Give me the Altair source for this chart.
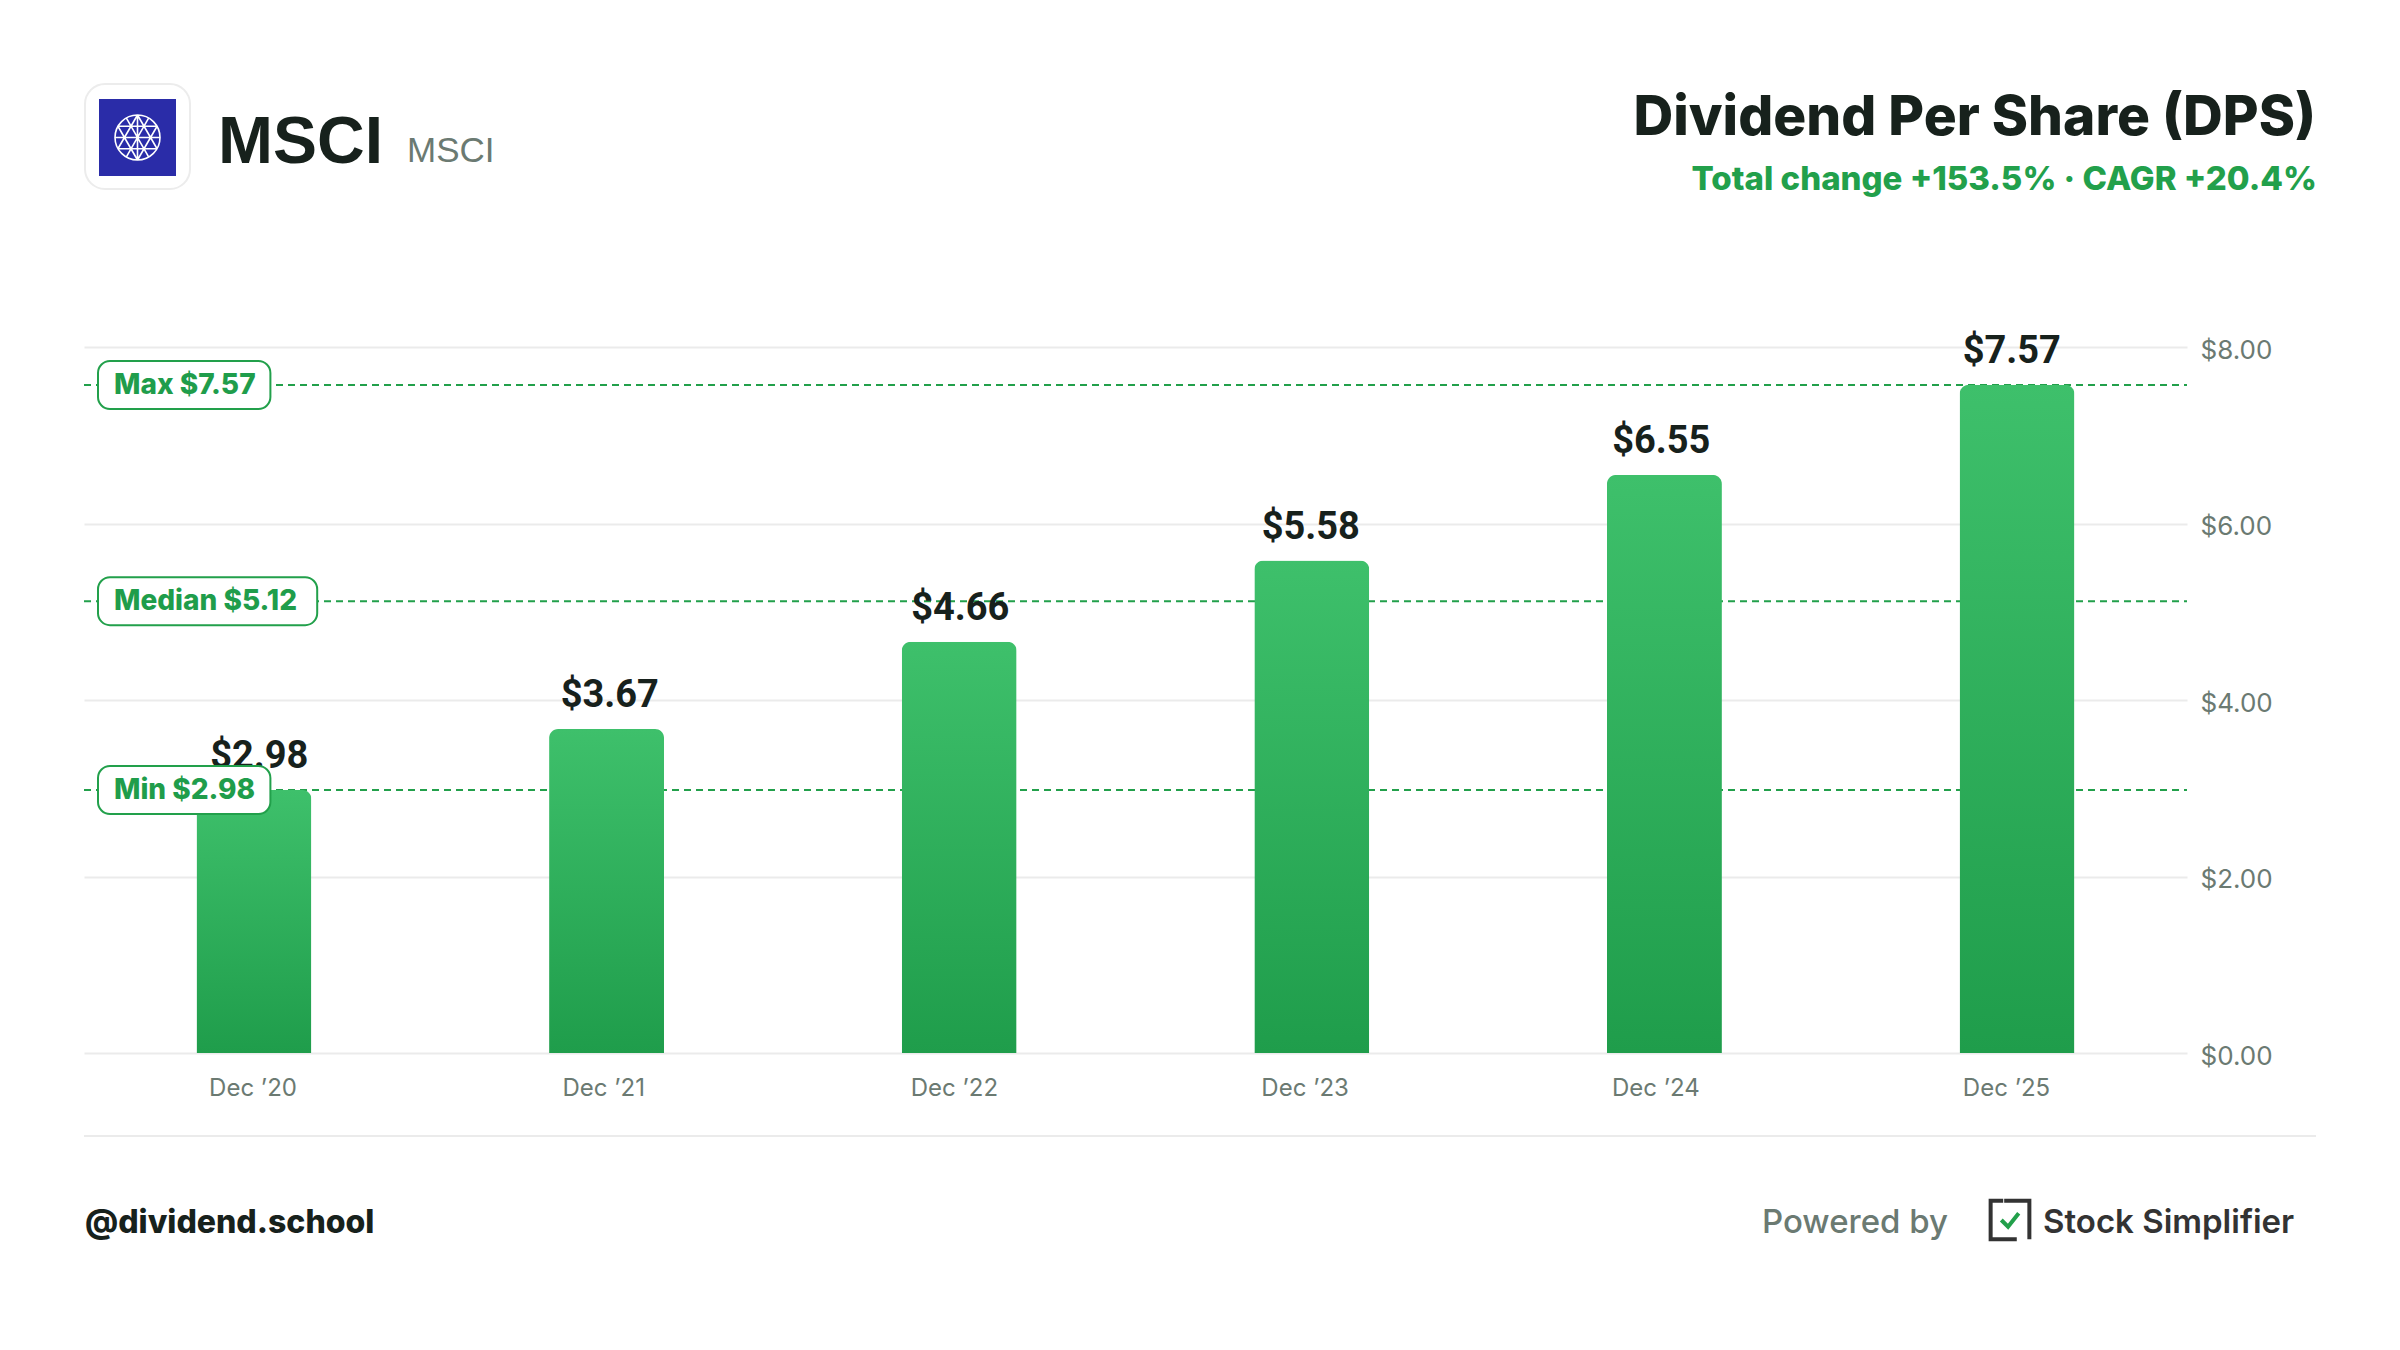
import altair as alt
import pandas as pd

# ---------------- data ----------------
periods = ["Dec ’20", "Dec ’21", "Dec ’22", "Dec ’23", "Dec ’24", "Dec ’25"]
dps = [2.98, 3.67, 4.66, 5.58, 6.55, 7.57]
ref_names = ["Max", "Median", "Min"]
ref_values = [7.57, 5.12, 2.98]
y_ticks = [0, 2, 4, 6, 8]

company = "MSCI"
ticker = "MSCI"
title_text = "Dividend Per Share (DPS)"
subtitle_text = "Total change +153.5% · CAGR +20.4%"
handle = "@dividend.school"
powered = "Powered by"
brand = "Stock Simplifier"

# ---------------- layout ----------------
W, H = 2103, 706
GREEN = "#22a04b"
DARK = "#17211c"
GRAY = "#6b7a72"
FONT = "Inter"

df = pd.DataFrame({"period": periods, "dps": dps})
ref = pd.DataFrame({"name": ref_names, "value": ref_values})
one = pd.DataFrame({"k": [0]})

y_scale = alt.Scale(domain=[0, 8], nice=False, zero=True)
bar_scale = alt.Scale(paddingInner=0.674, paddingOuter=0.319)
label_scale = alt.Scale(paddingInner=0.5, paddingOuter=0.2483, align=0.467)

x_axis = alt.Axis(title=None, labelAngle=0, ticks=False, domain=False,
                  labelFont=FONT, labelFontSize=24, labelColor=GRAY,
                  labelPadding=23, grid=False)
y_axis = alt.Axis(orient="right", values=y_ticks, format="$.2f", title=None,
                  ticks=False, domain=False, labelPadding=13, labelFont=FONT,
                  labelFontSize=26, labelColor=GRAY, gridColor="#ebebeb",
                  gridWidth=2, grid=True, labelOffset=3)


def XB():
    return alt.X("period:N", sort=periods, scale=bar_scale, axis=None)


def Y(field):
    return alt.Y(field, scale=y_scale, axis=y_axis)


axis_layer = alt.Chart(df).mark_bar(opacity=0).encode(
    x=alt.X("period:N", sort=periods, scale=label_scale, axis=x_axis),
    y=Y("dps:Q"),
)

rules = alt.Chart(ref).mark_rule(strokeDash=[7, 5], color=GREEN, strokeWidth=2).encode(
    y=Y("value:Q"), x=alt.value(0), x2=alt.value(W),
)

bars = alt.Chart(df).mark_bar(
    color=alt.Gradient(
        gradient="linear",
        stops=[alt.GradientStop(color="#3ec06b", offset=0),
               alt.GradientStop(color="#1f9d4b", offset=1)],
        x1=0, x2=0, y1=0, y2=1,
    ),
    cornerRadiusTopLeft=9, cornerRadiusTopRight=9,
).encode(x=XB(), y=Y("dps:Q"))

values = alt.Chart(df).mark_text(
    font="Roboto", fontWeight="bold", fontSize=38, color=DARK,
    baseline="alphabetic", dy=-22,
).encode(
    x=XB(), y=Y("dps:Q"),
    text=alt.Text("dps:Q", format="$.2f"),
)

ref_base = alt.Chart(ref).transform_calculate(
    label="datum.name + ' $' + format(datum.value, '.2f')"
).transform_calculate(
    bx0="14", bx1="14 + 15.6 * length(datum.label) + 32"
)

boxes = ref_base.mark_rect(
    fill="white", stroke=GREEN, strokeWidth=2, cornerRadius=12,
    yOffset=-24, y2Offset=24,
).encode(
    y=Y("value:Q"), y2="value:Q",
    x=alt.X("bx0:Q", scale=None, axis=None), x2="bx1:Q",
)

box_text = ref_base.mark_text(
    align="left", baseline="middle", font=FONT, fontWeight=800,
    fontSize=28, color="#1f9d4b", dy=1,
).encode(
    y=Y("value:Q"), x=alt.value(30), text="label:N",
)

# ---------------- header ----------------
def txt(t, x, y, size, color, weight="normal", align="left", font=FONT):
    return alt.Chart(one).mark_text(
        text=t, align=align, baseline="alphabetic", fontSize=size,
        fontWeight=weight, color=color, font=font,
    ).encode(x=alt.value(x), y=alt.value(y))

logo_bg = alt.Chart(one).mark_rect(
    fill="white", stroke="#ececec", strokeWidth=2, cornerRadius=20
).encode(x=alt.value(1), x2=alt.value(106), y=alt.value(-263), y2=alt.value(-158))
logo_sq = alt.Chart(one).mark_rect(fill="#2a2ca8").encode(
    x=alt.value(15), x2=alt.value(92), y=alt.value(-248), y2=alt.value(-171)
)
globe_path = (
    "M-1,0 A1,1 0 1,1 1,0 A1,1 0 1,1 -1,0 Z "
    "M0,-1 L0,1 "
    "M-0.87,-0.5 L0.87,-0.5 M-1,0 L1,0 M-0.87,0.5 L0.87,0.5 "
    "M0,-1 L-0.87,0.5 M0,-1 L0.87,0.5 M0,1 L-0.87,-0.5 M0,1 L0.87,-0.5 "
    "M-0.5,-0.87 L0.5,0.87 M0.5,-0.87 L-0.5,0.87"
)
globe = alt.Chart(one).mark_point(
    shape=globe_path, filled=False, stroke="white", strokeWidth=1.6,
    size=2025, opacity=1,
).encode(x=alt.value(53.5), y=alt.value(-209.5))

name_big = txt(company, 134, -184, 66, DARK, "bold", font="Liberation Sans")
name_small = txt(ticker, 323, -185, 35, GRAY, font="Liberation Sans")
title = txt(title_text, 2232, -212, 55, DARK, 800, align="right")
subtitle = txt(subtitle_text, 2233, -157, 33, GREEN, 800, align="right")

# ---------------- footer ----------------
sep = alt.Chart(one).mark_rule(color="#ebebeb", strokeWidth=2).encode(
    x=alt.value(0), x2=alt.value(2232), y=alt.value(789)
)
foot_handle = txt(handle, 1, 886, 32, DARK, 800)
foot_powered = txt(powered, 1678, 886, 33, GRAY, 500)
foot_brand = txt(brand, 1959, 886, 33, "#333333", 600)
icon = alt.Chart(one).mark_point(
    shape="M-0.35,-1 L-1,-1 L-1,1 L0.35,1 M-0.3,-1 L1,-1 L1,1",
    filled=False, stroke="#333333", strokeWidth=4, size=1500, opacity=1,
).encode(x=alt.value(1926), y=alt.value(873))
check = alt.Chart(one).mark_point(
    shape="M-0.45,0 L-0.1,0.35 L0.45,-0.35",
    filled=False, stroke=GREEN, strokeWidth=4, size=1500, opacity=1,
).encode(x=alt.value(1926), y=alt.value(873))

chart = alt.layer(
    axis_layer, rules, bars, values, boxes, box_text,
    logo_bg, logo_sq, globe, name_big, name_small, title, subtitle,
    sep, foot_handle, foot_powered, icon, check, foot_brand,
).resolve_scale(x="independent").properties(
    width=W, height=H,
    autosize=alt.AutoSizeParams(type="none"),
    padding={"left": 76, "top": 339, "right": 205, "bottom": 289},
    background="white",
).configure_view(stroke=None)

chart.save("out.html", embed_options={"renderer": "svg", "actions": False})
